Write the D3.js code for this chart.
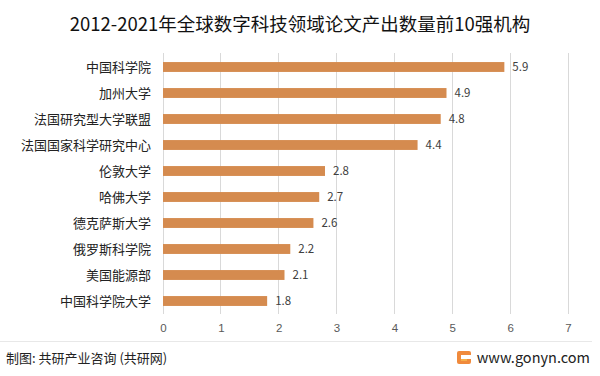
<!doctype html>
<meta charset="utf-8">
<style>
body { margin: 0; background: #fff; }
svg { display: block; font-family: "Noto Sans CJK SC", "Microsoft YaHei", sans-serif; }
.cat { font-size: 13px; fill: #222; text-anchor: end; }
.val { font-size: 11.5px; fill: #404040; }
.tick text { font-size: 11.5px; fill: #595959; }
</style>
<div id="chart"></div>
<script src="https://d3js.org/d3.v7.min.js"></script>
<script>
  const categories = ["中国科学院", "加州大学", "法国研究型大学联盟", "法国国家科学研究中心",
    "伦敦大学", "哈佛大学", "德克萨斯大学", "俄罗斯科学院", "美国能源部", "中国科学院大学"];
  const values = [5.9, 4.9, 4.8, 4.4, 2.8, 2.7, 2.6, 2.2, 2.1, 1.8];
  const xTicks = [0, 1, 2, 3, 4, 5, 6, 7];

  const W = 600, H = 376;
  const svg = d3.select("#chart").append("svg").attr("width", W).attr("height", H);

  svg.append("text")
    .attr("x", 300).attr("y", 31)
    .attr("text-anchor", "middle")
    .style("font-size", "18.5px").style("fill", "#111")
    .text("2012-2021年全球数字科技领域论文产出数量前10强机构");

  let x = d3.scaleLinear().domain([0, 7]).range([163, 568]);
  let y = d3.scaleBand().domain(categories).range([54, 314]).paddingInner(0.62).paddingOuter(0.31);

  // gridlines
  svg.append("g").selectAll("line")
    .data(xTicks)
    .enter().append("line")
    .attr("x1", d => x(d)).attr("x2", d => x(d))
    .attr("y1", 53).attr("y2", 314)
    .attr("stroke", "#d9d9d9").attr("stroke-width", 1)
    .attr("shape-rendering", "crispEdges");

  let xAxis = d3.axisBottom(x).tickValues(xTicks).tickFormat(d3.format("d")).tickSize(0).tickPadding(9);
  svg.append("g")
    .attr("transform", "translate(0,315)")
    .call(xAxis)
    .call(g => g.select(".domain").remove());

  svg.selectAll(".bar")
    .data(values)
    .enter().append("rect")
    .attr("class", "bar")
    .attr("x", x(0))
    .attr("y", (d, i) => y(categories[i]))
    .attr("width", d => x(d) - x(0))
    .attr("height", y.bandwidth())
    .attr("fill", "#d58b4f");

  svg.selectAll(".val")
    .data(values)
    .enter().append("text")
    .attr("class", "val")
    .attr("x", d => x(d) + 8)
    .attr("y", (d, i) => y(categories[i]) + y.bandwidth() / 2)
    .attr("dy", "0.35em")
    .text(d => d3.format(".1f")(d));

  svg.selectAll(".cat")
    .data(categories)
    .enter().append("text")
    .attr("class", "cat")
    .attr("x", 151)
    .attr("y", d => y(d) + y.bandwidth() / 2)
    .attr("dy", "0.35em")
    .text(d => d);

  // footer
  svg.append("line")
    .attr("x1", 0).attr("x2", 592).attr("y1", 341.5).attr("y2", 341.5)
    .attr("stroke", "#e8e8e8");

  svg.append("text")
    .attr("x", 6).attr("y", 363)
    .style("font-size", "13px").style("fill", "#222")
    .text("制图: 共研产业咨询 (共研网)");

  const logo = svg.append("g").attr("transform", "translate(457,351)");
  logo.append("rect").attr("width", 14).attr("height", 13).attr("rx", 2).attr("fill", "#f08a3c");
  logo.append("rect").attr("x", 4).attr("y", 4).attr("width", 10).attr("height", 4).attr("fill", "#fff");
  logo.append("rect").attr("x", 4).attr("y", 8).attr("width", 6).attr("height", 2).attr("fill", "#f5b04a");

  svg.append("text")
    .attr("x", 590).attr("y", 363)
    .attr("text-anchor", "end")
    .style("font-size", "14.5px").style("fill", "#222")
    .text("www.gonyn.com");
</script>
